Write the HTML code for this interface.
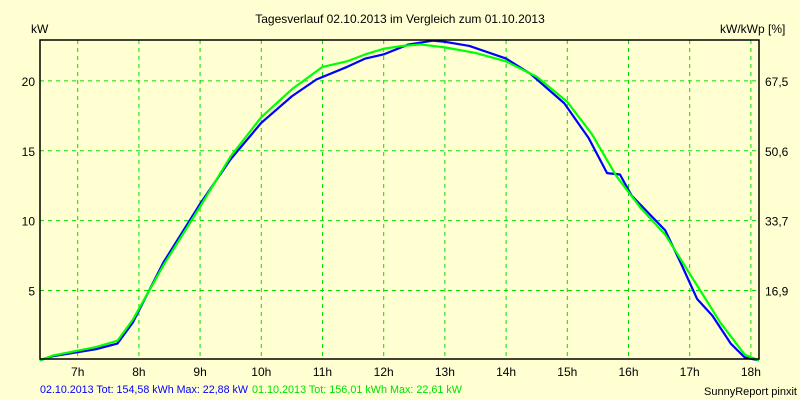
<!DOCTYPE html>
<html><head><meta charset="utf-8"><style>
body{margin:0;background:#ffffd2;}
svg{display:block;font-family:"Liberation Sans",sans-serif;font-size:12px;}
</style></head><body>
<svg width="800" height="400" viewBox="0 0 800 400">
<rect x="0" y="0" width="800" height="400" fill="#ffffd2"/>
<text x="400" y="23" text-anchor="middle" fill="#000">Tagesverlauf 02.10.2013 im Vergleich zum 01.10.2013</text>
<text x="31" y="33" fill="#000">kW</text>
<text x="720" y="33" fill="#000">kW/kWp [%]</text>
<g id="grid"></g>
<g id="labels"></g>
<g id="series"></g>
<rect x="40" y="40" width="719" height="319" fill="none" stroke="#000" stroke-width="1.5"/>
<text x="40" y="393" fill="#0000ff" font-size="11" textLength="208" lengthAdjust="spacingAndGlyphs">02.10.2013 Tot: 154,58 kWh Max: 22,88 kW</text>
<text x="252" y="393" fill="#00e000" font-size="11" textLength="210" lengthAdjust="spacingAndGlyphs">01.10.2013 Tot: 156,01 kWh Max: 22,61 kW</text>
<text x="797" y="395" text-anchor="end" fill="#000" font-size="11">SunnyReport pinxit</text>
</svg>
<script>
const hourTicks=[7,8,9,10,11,12,13,14,15,16,17,18];
const yTicks=[5,10,15,20];
const y2TickLabels=["16,9","33,7","50,6","67,5"];
const timesBlue=[6.38,6.6,7.3,7.65,7.9,8.4,9.0,9.5,10.0,10.5,10.9,11.4,11.7,12.0,12.4,12.8,13.0,13.4,14.0,14.4,14.95,15.35,15.65,15.86,16.05,16.6,16.85,17.12,17.37,17.67,17.9,18.13];
const valuesBlue=[0,0.3,0.8,1.2,2.7,7.0,11.2,14.4,17.0,18.9,20.1,21.0,21.6,21.9,22.6,22.88,22.8,22.5,21.6,20.5,18.4,15.9,13.4,13.3,11.8,9.3,7.0,4.4,3.2,1.2,0.2,0];
const timesGreen=[6.38,6.6,7.3,7.65,7.9,8.4,9.0,9.5,10.0,10.5,11.0,11.4,11.7,12.0,12.3,12.6,13.0,13.5,14.0,14.5,15.0,15.4,15.8,16.2,16.6,17.0,17.5,17.9,18.13];
const valuesGreen=[0,0.35,0.95,1.4,2.9,6.8,11.0,14.6,17.4,19.4,21.0,21.4,21.9,22.3,22.5,22.61,22.4,22.0,21.4,20.3,18.5,16.2,13.2,10.9,9.0,6.2,2.7,0.4,0];
const X=t=>77.7+(t-7)*61.2;
const Y=v=>360.3-v*13.97;
const NS="http://www.w3.org/2000/svg";
const grid=document.getElementById('grid'),labels=document.getElementById('labels'),series=document.getElementById('series');
function mk(tag,attrs,parent){const e=document.createElementNS(NS,tag);for(const k in attrs)e.setAttribute(k,attrs[k]);parent.appendChild(e);return e;}
hourTicks.forEach(h=>{
  const l=mk('line',{x1:X(h),x2:X(h),y1:40,y2:359,stroke:'#00e000','stroke-dasharray':'4,4'},grid);
  
  
  const t=mk('text',{x:X(h),y:376,'text-anchor':'middle',fill:'#000'},labels);
  t.textContent=h+'h';
  
  
});
yTicks.forEach((v,i)=>{
  const l=mk('line',{x1:40,x2:759,y1:Y(v),y2:Y(v),stroke:'#00e000','stroke-dasharray':'4,4'},grid);
  
  
  const t=mk('text',{x:35,y:Y(v)+5,'text-anchor':'end',fill:'#000'},labels);
  t.textContent=v;
  
  
  const t2=mk('text',{x:765,y:Y(v)+5,fill:'#000'},labels);
  t2.textContent=y2TickLabels[i];
  
  
});
function line(ts,vs,color,name){
  const p=mk('polyline',{points:ts.map((t,i)=>X(t)+','+Y(vs[i])).join(' '),fill:'none',stroke:color,'stroke-width':2.2,'stroke-linejoin':'round'},series);
  
  
}
line(timesBlue,valuesBlue,'#0000ff','series-02-10-2013');
line(timesGreen,valuesGreen,'#00ff00','series-01-10-2013');
</script>
</body></html>
